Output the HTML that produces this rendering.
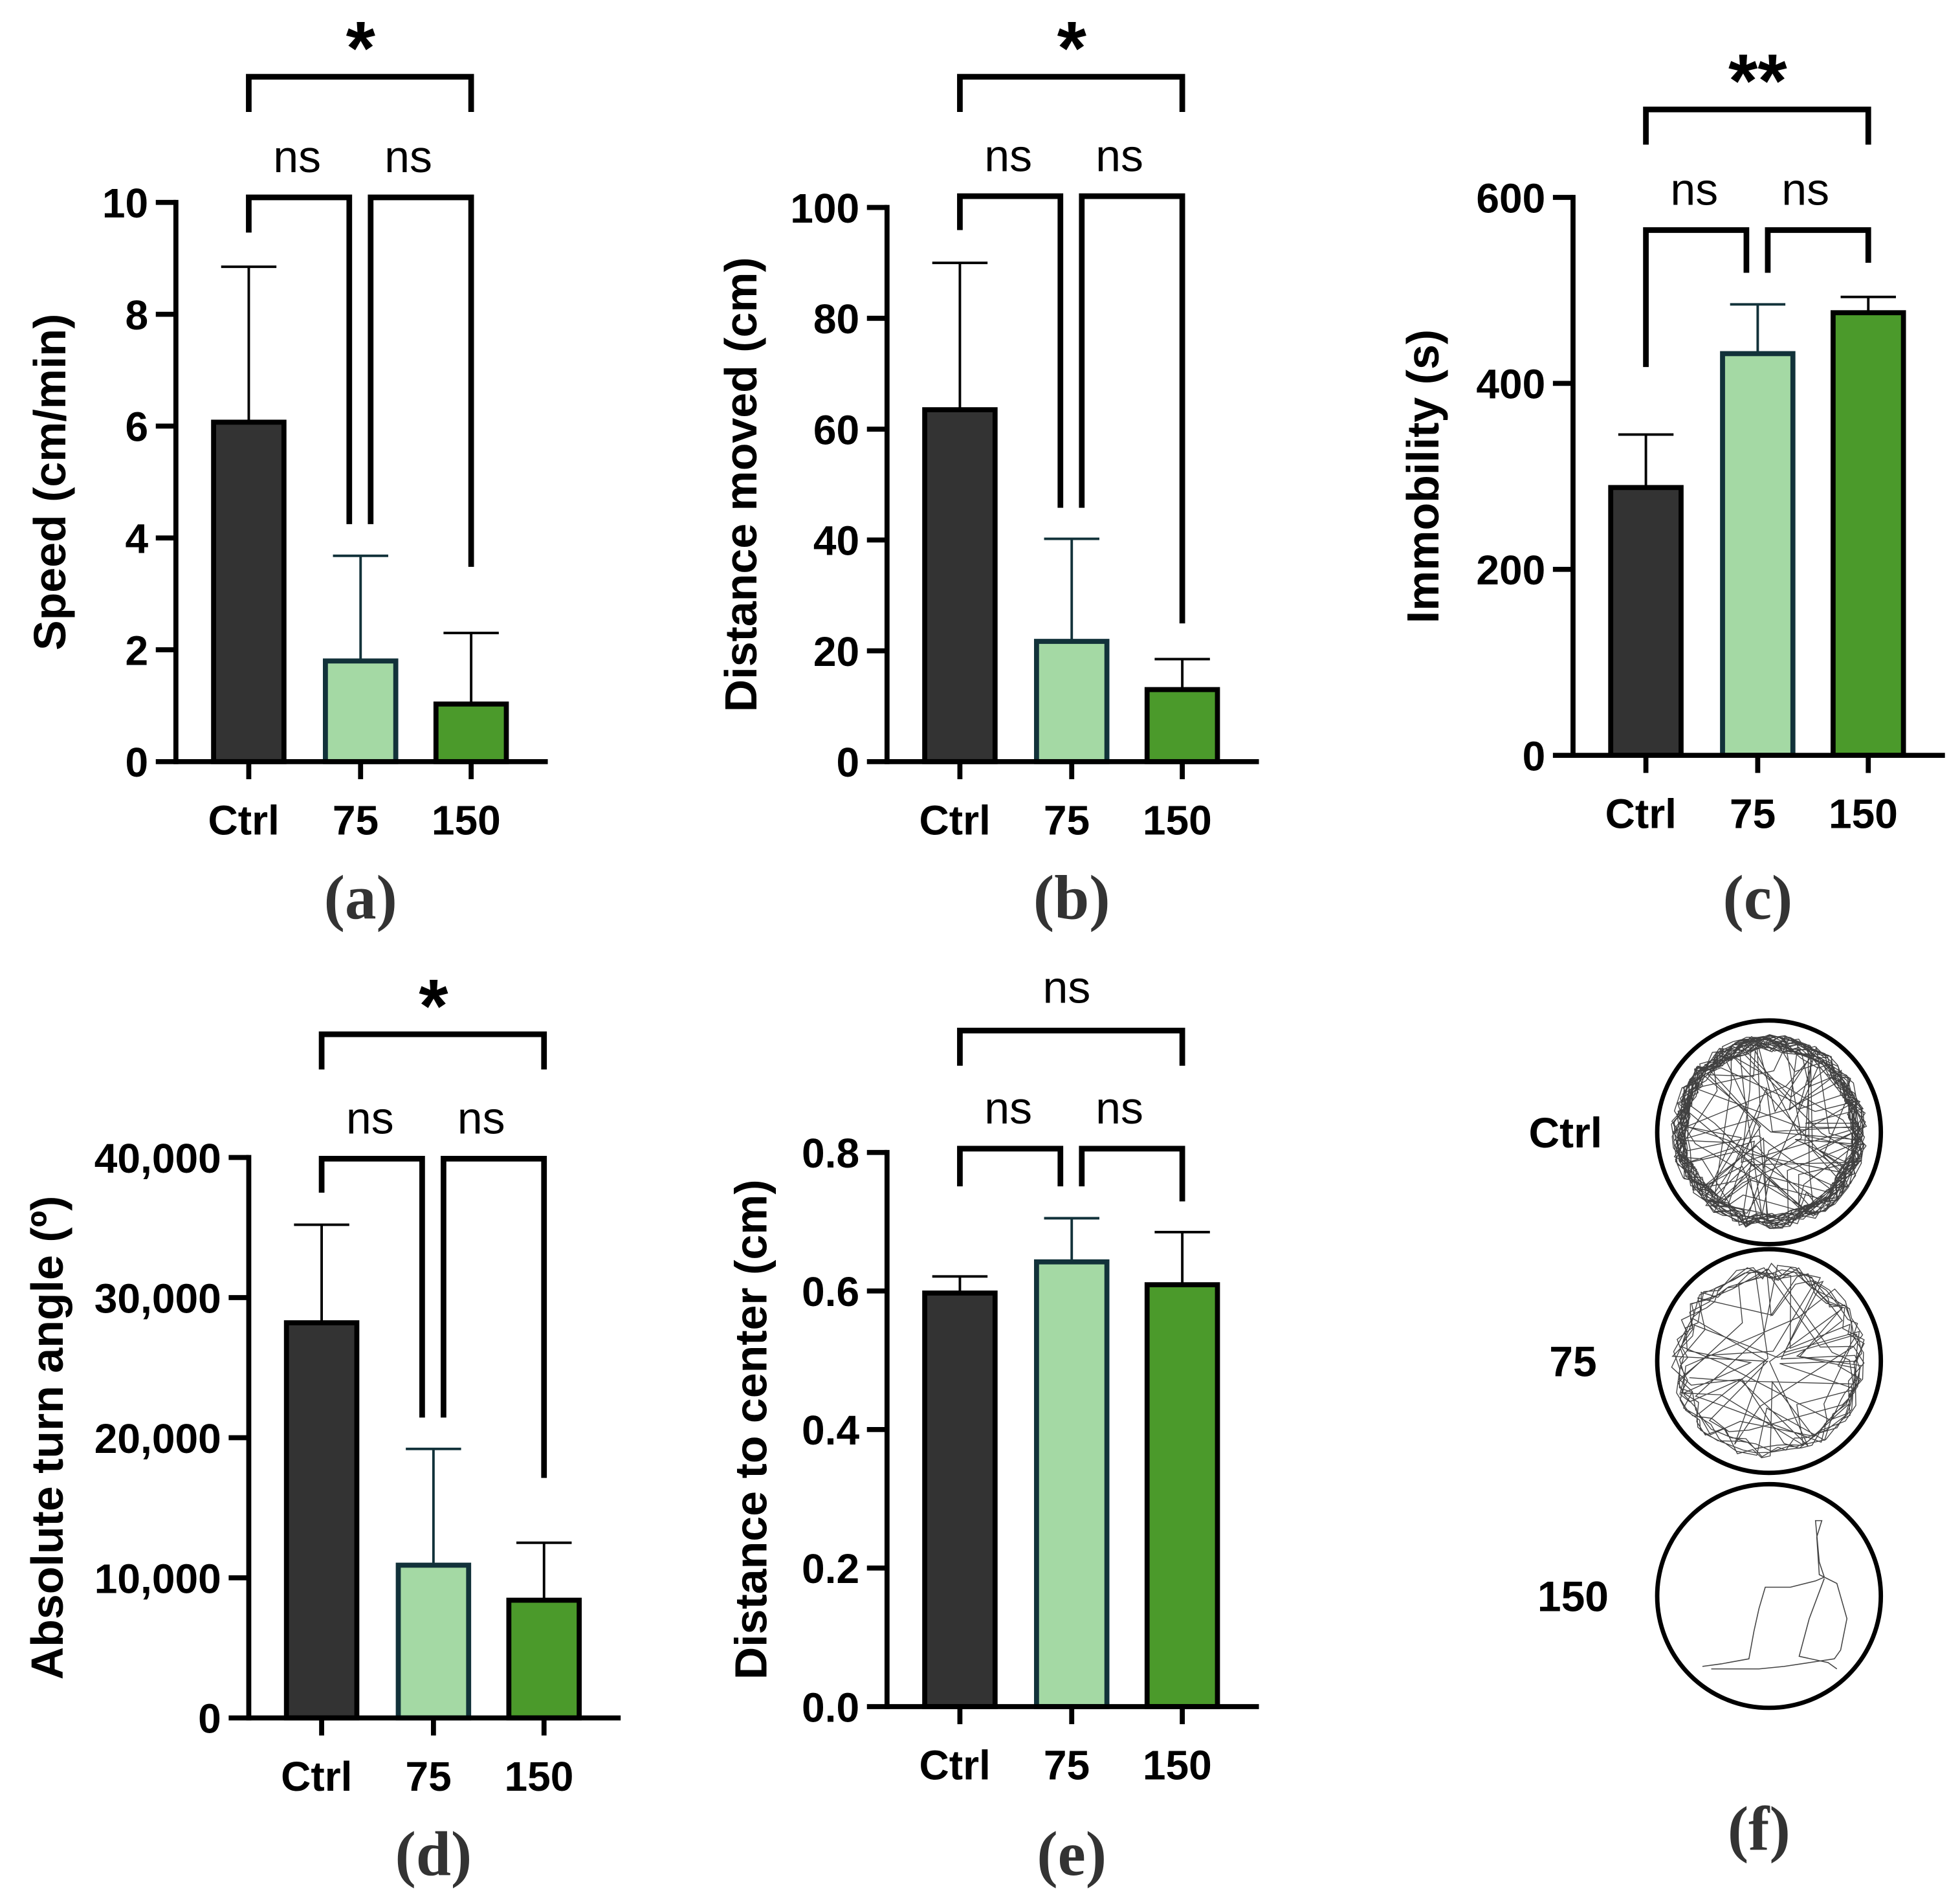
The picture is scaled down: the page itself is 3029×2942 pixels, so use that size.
<!DOCTYPE html>
<html><head><meta charset="utf-8"><style>
html,body{margin:0;padding:0;background:#fff;}
svg{display:block;}
</style></head><body>
<svg id="fig" width="3029" height="2942" viewBox="0 0 1560 1515" xmlns="http://www.w3.org/2000/svg" font-family="Liberation Sans, Arial, sans-serif"></svg>
<script>
// ---- data ----
const categories = ["Ctrl", "75", "150"];
const speedMeans = [6.07, 1.8, 1.03];
const speedErr = [8.85, 3.68, 2.3];
const speedTicks = [0, 2, 4, 6, 8, 10];
const distMeans = [63.5, 21.7, 13];
const distErr = [90, 40.2, 18.5];
const distTicks = [0, 20, 40, 60, 80, 100];
const immobMeans = [288, 432, 476];
const immobErr = [345, 485, 493];
const immobTicks = [0, 200, 400, 600];
const turnMeans = [28200, 10900, 8400];
const turnErr = [35200, 19200, 12500];
const turnTicks = [0, 10000, 20000, 30000, 40000];
const centerMeans = [0.597, 0.642, 0.609];
const centerErr = [0.621, 0.705, 0.685];
const centerTicks = [0, 0.2, 0.4, 0.6, 0.8];

const NS = "http://www.w3.org/2000/svg";
const svg = document.getElementById("fig");
const fills = ["#333333", "#a4d9a4", "#4b9a2b"];
const strokes = ["#000", "#12323a", "#000"];
function mk(tag, attrs, parent) {
  const e = document.createElementNS(NS, tag);
  for (const k in attrs) e.setAttribute(k, attrs[k]);
  (parent || svg).appendChild(e);
  return e;
}
function panel(o) {
  const g = mk("g", {});
  
  
  const max = o.ticks[o.ticks.length - 1];
  const y = v => o.y0 + (o.yTop - o.y0) * v / max;
  const xs = [o.ax + 58, o.ax + 147, o.ax + 235];
  o.means.forEach((m, i) => {
    const bw = 56;
    const eb = mk("line", {x1: xs[i], x2: xs[i], y1: y(m), y2: y(o.err[i]), stroke: strokes[i], "stroke-width": 2}, g);
    
    
    mk("line", {x1: xs[i] - 22, x2: xs[i] + 22, y1: y(o.err[i]), y2: y(o.err[i]), stroke: strokes[i], "stroke-width": 2}, g);
    const r = mk("rect", {x: xs[i] - bw / 2, y: y(m), width: bw, height: o.y0 - y(m), fill: fills[i], stroke: strokes[i], "stroke-width": 4}, g);
    
    
  });
  const ya = mk("line", {x1: o.ax, x2: o.ax, y1: o.yTop - 2, y2: o.y0 + 2, stroke: "#000", "stroke-width": 4}, g);
  
  
  const xa = mk("line", {x1: o.ax - 16, x2: o.ax + 296, y1: o.y0, y2: o.y0, stroke: "#000", "stroke-width": 4}, g);
  
  
  o.ticks.forEach(t => {
    if (t !== 0) mk("line", {x1: o.ax - 16, x2: o.ax, y1: y(t), y2: y(t), stroke: "#000", "stroke-width": 4}, g);
    const tl = mk("text", {x: o.ax - 22, y: y(t) + 12, "text-anchor": "end", "font-size": 33, "font-weight": "bold"}, g);
    tl.textContent = o.fmt ? o.fmt(t) : String(t);
    
    
  });
  xs.forEach((x, i) => {
    mk("line", {x1: x, x2: x, y1: o.y0, y2: o.y0 + 14, stroke: "#000", "stroke-width": 4}, g);
    const cl = mk("text", {x: x - 4, y: o.y0 + 58, "text-anchor": "middle", "font-size": 33, "font-weight": "bold"}, g);
    cl.textContent = categories[i];
    
    
  });
  const yt = mk("text", {x: 0, y: 0, transform: `translate(${o.titleX},${(o.y0 + o.yTop) / 2}) rotate(-90)`, "text-anchor": "middle", "font-size": 36, "font-weight": "bold"}, g);
  yt.textContent = o.title;
  
  
  const br = (pts, nm) => {
    const p = mk("polyline", {points: pts.map(p => p.join(",")).join(" "), fill: "none", stroke: "#000", "stroke-width": 4.5}, g);
    
    
  };
  br([[xs[0], o.topB + 28], [xs[0], o.topB], [xs[2], o.topB], [xs[2], o.topB + 28]], 'significance-bracket-overall');
  br([[xs[0], o.nsTips[0]], [xs[0], o.nsB], [xs[1] - 9, o.nsB], [xs[1] - 9, o.nsTips[1]]], 'significance-bracket-ctrl-75');
  br([[xs[1] + 8, o.nsTips[1]], [xs[1] + 8, o.nsB], [xs[2], o.nsB], [xs[2], o.nsTips[2]]], 'significance-bracket-75-150');
  const isNs = o.star === "ns";
  const st = mk("text", {x: xs[1] - (isNs ? 4 : 0), y: o.topB - (isNs ? 22 : 2), "text-anchor": "middle", "font-size": isNs ? 36 : 60, "font-weight": isNs ? "normal" : "bold"}, g);
  st.textContent = o.star;
  
  
  [(xs[0] + xs[1]) / 2, (xs[1] + xs[2]) / 2].forEach(x => {
    const n = mk("text", {x: x - 6, y: o.nsB - 20, "text-anchor": "middle", "font-size": 36}, g);
    n.textContent = "ns";
    
    
  });
  const pl = mk("text", {x: xs[1], y: o.labelY, "text-anchor": "middle", "font-size": 50, "font-weight": "bold", "font-family": "Liberation Serif, serif", fill: "#333"}, g);
  pl.textContent = o.label;
  
  
}
const comma = t => t.toLocaleString("en-US");
panel({name: "panel-a-speed", ax: 140, y0: 606, yTop: 161, ticks: speedTicks, means: speedMeans, err: speedErr, title: "Speed (cm/min)", titleX: 52, topB: 61, nsB: 157, nsTips: [185, 417, 451], star: "*", label: "(a)", labelY: 731});
panel({name: "panel-b-distance", ax: 706, y0: 606, yTop: 165, ticks: distTicks, means: distMeans, err: distErr, title: "Distance moved (cm)", titleX: 602, topB: 61, nsB: 156, nsTips: [183, 404, 496], star: "*", label: "(b)", labelY: 731});
panel({name: "panel-c-immobility", ax: 1252, y0: 601, yTop: 157, ticks: immobTicks, means: immobMeans, err: immobErr, title: "Immobility (s)", titleX: 1145, topB: 87, nsB: 183, nsTips: [292, 217, 209], star: "**", label: "(c)", labelY: 731});
panel({name: "panel-d-turn-angle", ax: 198, y0: 1367, yTop: 921, ticks: turnTicks, means: turnMeans, err: turnErr, fmt: comma, title: "Absolute turn angle (º)", titleX: 50, topB: 823, nsB: 922, nsTips: [949, 1128, 1176], star: "*", label: "(d)", labelY: 1492});
panel({name: "panel-e-center-distance", ax: 706, y0: 1358, yTop: 917, ticks: centerTicks, means: centerMeans, err: centerErr, fmt: t => t.toFixed(1), title: "Distance to center (cm)", titleX: 610, topB: 820, nsB: 914, nsTips: [944, 944, 956], star: "ns", label: "(e)", labelY: 1492});

// ---- panel f: track plots (decorative) ----
let seed = 11;
function rnd() { seed = (seed * 16807) % 2147483647; return seed / 2147483647; }
const gf = mk("g", {});


const arenas = [{cy: 901, lab: "Ctrl", n: 900, rim: 0.93}, {cy: 1083, lab: "75", n: 320, rim: 0.88}, {cy: 1270, lab: "150", n: 0, rim: 0}];
arenas.forEach(a => {
  const c = mk("circle", {cx: 1408, cy: a.cy, r: 89, fill: "#fff", stroke: "#000", "stroke-width": 3.5}, gf);
  
  
  const t = mk("text", {x: a.lab === "Ctrl" ? 1246 : 1252, y: a.cy + 12, "text-anchor": "middle", "font-size": 34, "font-weight": "bold"}, gf);
  t.textContent = a.lab;
  
  
  if (a.n) {
    let pts = [], ang = 0;
    for (let i = 0; i < a.n; i++) {
      let r;
      if (rnd() < a.rim) { r = 64 + rnd() * 14; ang += 0.08 + rnd() * 0.2; }
      else { r = rnd() * 60; ang += rnd() * 2.5; }
      pts.push((1408 + r * Math.cos(ang)).toFixed(1) + "," + (a.cy + r * Math.sin(ang)).toFixed(1));
    }
    const p = mk("polyline", {points: pts.join(" "), fill: "none", stroke: "#111", "stroke-width": 0.7, "stroke-opacity": 0.8}, gf);
    
    
  } else {
    const p = mk("polyline", {points: "1355,1326 1370,1324 1392,1320 1396,1298 1400,1280 1405,1263 1425,1263 1445,1258 1452,1255 1448,1243 1445,1210 1450,1210 1446,1223 1448,1253 1462,1260 1470,1288 1465,1313 1460,1320 1440,1323 1420,1326 1400,1328 1380,1328 1362,1328", fill: "none", stroke: "#444", "stroke-width": 0.8}, gf);
    
    
    const p2 = mk("polyline", {points: "1452,1256 1440,1288 1432,1318 1455,1323 1462,1328", fill: "none", stroke: "#444", "stroke-width": 0.8}, gf);
    
    
  }
});
const fl = mk("text", {x: 1400, y: 1472, "text-anchor": "middle", "font-size": 50, "font-weight": "bold", "font-family": "Liberation Serif, serif", fill: "#333"}, gf);
fl.textContent = "(f)";


</script>
</body></html>
